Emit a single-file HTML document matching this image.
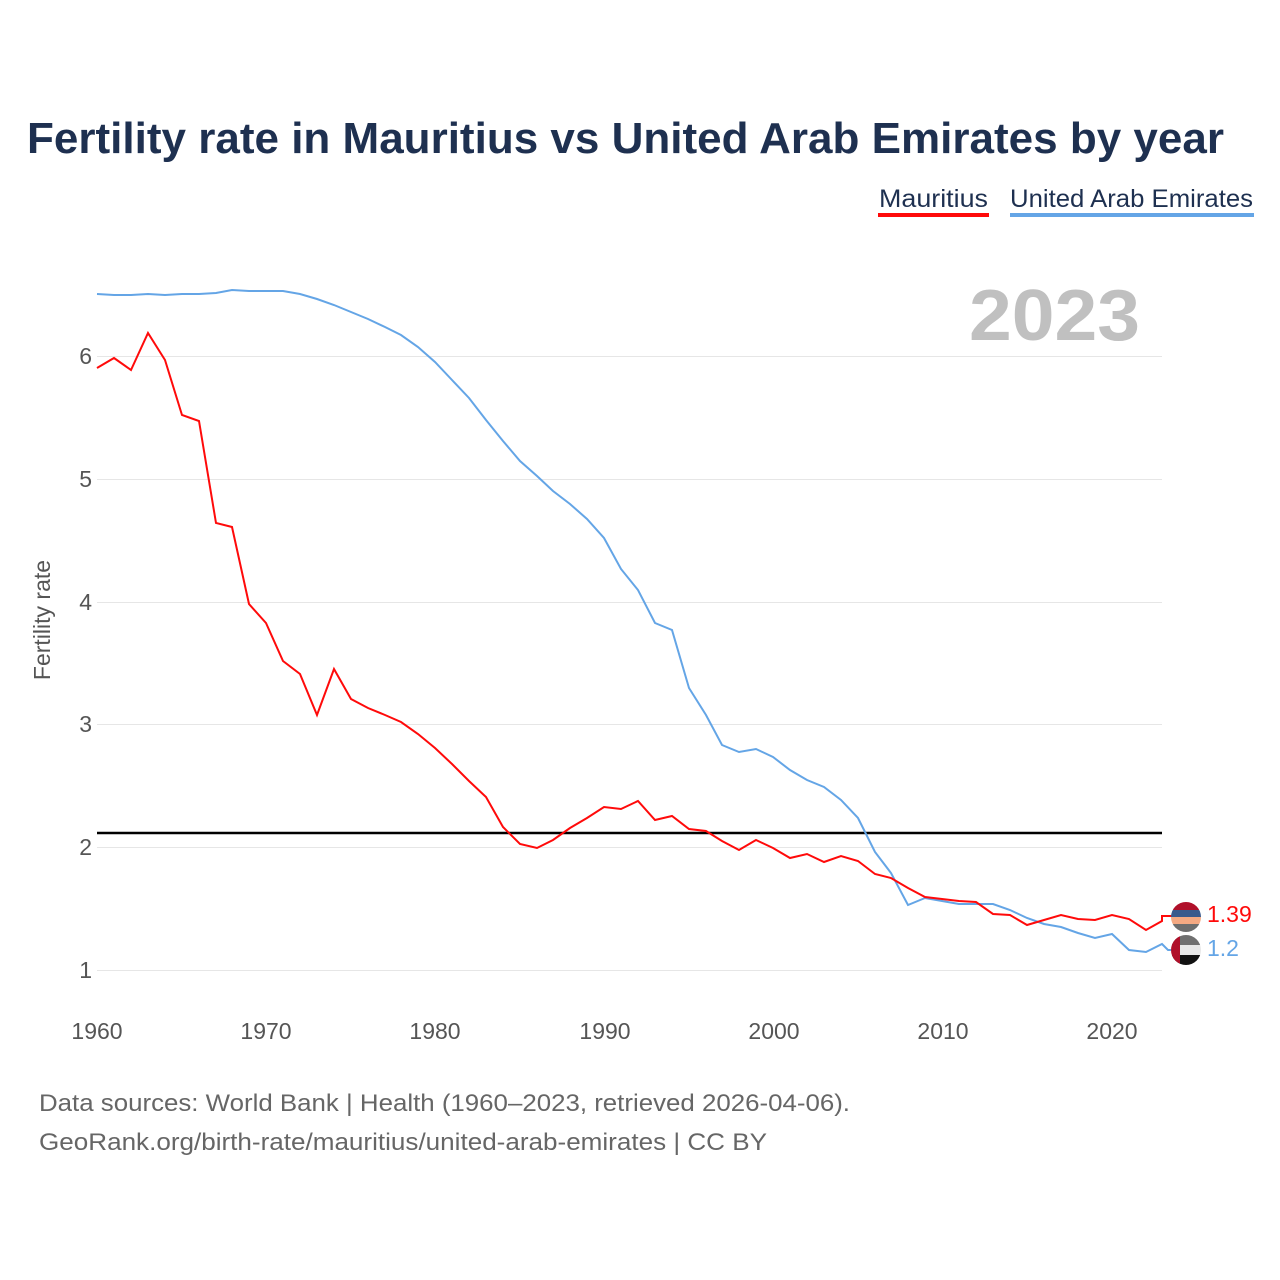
<!DOCTYPE html>
<html><head><meta charset="utf-8"><style>
html,body{margin:0;padding:0;background:#fff;}
svg{display:block;font-family:"Liberation Sans",sans-serif;}
</style></head><body>
<svg width="1280" height="1280" viewBox="0 0 1280 1280">
<rect width="1280" height="1280" fill="#fff"/>
<text x="27" y="153" font-size="44" font-weight="bold" fill="#1e3050" textLength="1197" lengthAdjust="spacingAndGlyphs">Fertility rate in Mauritius vs United Arab Emirates by year</text>
<text x="879" y="207" font-size="25" fill="#1e3050" textLength="109" lengthAdjust="spacingAndGlyphs">Mauritius</text>
<rect x="878" y="213" width="111" height="4" fill="#ff0a0a"/>
<text x="1010" y="207" font-size="25" fill="#1e3050" textLength="243" lengthAdjust="spacingAndGlyphs">United Arab Emirates</text>
<rect x="1010" y="213" width="244" height="4" fill="#64a5e6"/>
<text x="969" y="340" font-size="72" font-weight="bold" fill="#c0c0c0" textLength="171" lengthAdjust="spacingAndGlyphs">2023</text>
<g stroke="#e6e6e6" stroke-width="1">
<line x1="97" x2="1162" y1="356.5" y2="356.5"/>
<line x1="97" x2="1162" y1="479.5" y2="479.5"/>
<line x1="97" x2="1162" y1="602.5" y2="602.5"/>
<line x1="97" x2="1162" y1="724.5" y2="724.5"/>
<line x1="97" x2="1162" y1="847.5" y2="847.5"/>
<line x1="97" x2="1162" y1="970.5" y2="970.5"/>
</g>
<g font-size="23" fill="#555" text-anchor="end">
<text x="92" y="364">6</text><text x="92" y="487">5</text><text x="92" y="610">4</text>
<text x="92" y="732">3</text><text x="92" y="855">2</text><text x="92" y="978">1</text>
</g>
<g font-size="23" fill="#555" text-anchor="middle">
<text x="97" y="1039">1960</text><text x="266" y="1039">1970</text><text x="435" y="1039">1980</text>
<text x="605" y="1039">1990</text><text x="774" y="1039">2000</text><text x="943" y="1039">2010</text><text x="1112" y="1039">2020</text>
</g>
<text transform="translate(50,620) rotate(-90)" font-size="23" fill="#555" text-anchor="middle">Fertility rate</text>
<line x1="97" x2="1162" y1="833" y2="833" stroke="#000" stroke-width="2.5"/>
<polyline fill="none" stroke="#64a5e6" stroke-width="2" points="97,294 114,295 131,295 148,294 165,295 182,294 199,294 216,293 232,290 249,291 266,291 283,291 300,294 317,299 334,305 351,312 368,319 385,327 401,335 418,347 435,362 452,380 469,398 486,420 503,441 520,461 537,476 553,491 570,504 587,519 604,538 621,569 638,590 655,623 672,630 689,688 706,715 722,745 739,752 756,749 773,757 790,770 807,780 824,787 841,800 858,818 875,852 891,873 908,905 925,898 942,901 959,904 976,904 993,904 1010,910 1027,918 1044,924 1061,927 1078,933 1095,938 1112,934 1129,950 1146,952 1162,944 1168,950 1172,950"/>
<polyline fill="none" stroke="#ff0a0a" stroke-width="2" points="97,368 114,358 131,370 148,333 165,360 182,415 199,421 216,523 232,527 249,604 266,623 283,661 300,674 317,715 334,669 351,699 368,708 385,715 401,722 418,734 435,748 452,764 469,781 486,797 503,827 520,844 537,848 553,840 570,828 587,818 604,807 621,809 638,801 655,820 672,816 689,829 706,831 722,841 739,850 756,840 773,848 790,858 807,854 824,862 841,856 858,861 875,874 891,878 908,888 925,897 942,899 959,901 976,902 993,914 1010,915 1027,925 1044,920 1061,915 1078,919 1095,920 1112,915 1129,919 1146,930 1162,921 1162,916 1172,916"/>
<defs>
<clipPath id="c1"><circle cx="1186" cy="917" r="15"/></clipPath>
<clipPath id="c2"><circle cx="1186" cy="950" r="15"/></clipPath>
</defs>
<g clip-path="url(#c1)">
<rect x="1170" y="901" width="32" height="9" fill="#b0102a"/>
<rect x="1170" y="910" width="32" height="7" fill="#3a5a8c"/>
<rect x="1170" y="917" width="32" height="7" fill="#f5a982"/>
<rect x="1170" y="924" width="32" height="10" fill="#6e6e6e"/>
</g>
<g clip-path="url(#c2)">
<rect x="1170" y="934" width="32" height="11" fill="#707070"/>
<rect x="1170" y="945" width="32" height="10" fill="#e8e8e8"/>
<rect x="1170" y="955" width="32" height="12" fill="#111"/>
<rect x="1170" y="934" width="10" height="33" fill="#b0102a"/>
</g>
<text x="1207" y="922" font-size="23" fill="#ff0a0a">1.39</text>
<text x="1207" y="956" font-size="23" fill="#64a5e6">1.2</text>
<text x="39" y="1111" font-size="24" fill="#666" textLength="811" lengthAdjust="spacingAndGlyphs">Data sources: World Bank | Health (1960–2023, retrieved 2026-04-06).</text>
<text x="39" y="1150" font-size="24" fill="#666" textLength="728" lengthAdjust="spacingAndGlyphs">GeoRank.org/birth-rate/mauritius/united-arab-emirates | CC BY</text>
</svg>
</body></html>
